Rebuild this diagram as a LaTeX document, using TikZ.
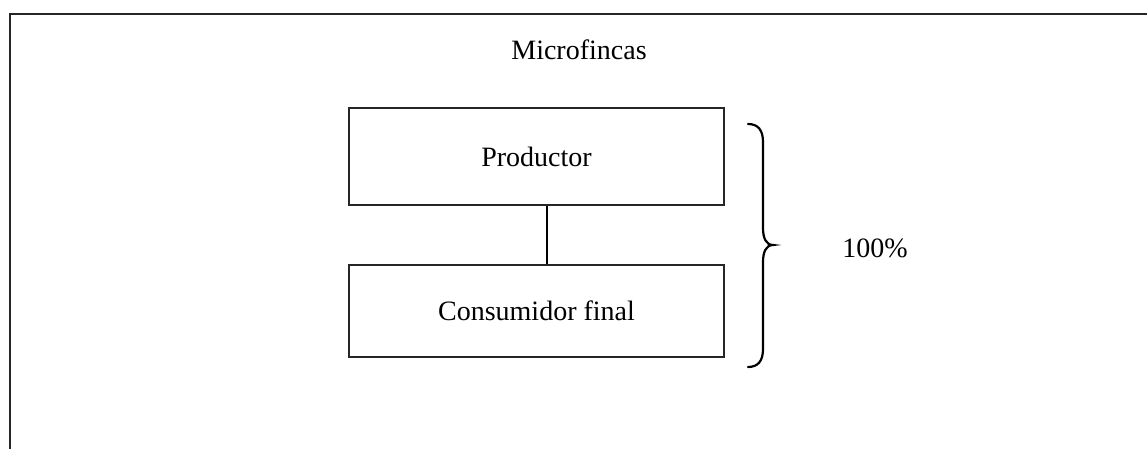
\documentclass[tikz,border=0pt]{standalone}
\usepackage{fontspec}
\setmainfont{Liberation Serif}
\begin{document}
\begin{tikzpicture}[x=1pt,y=-1pt,
  boxstyle/.style={draw=black!85, line width=1.3pt, minimum width=375pt, inner sep=0pt, font=\fontsize{28}{34}\selectfont},
  lbl/.style={inner sep=0pt, font=\fontsize{28}{34}\selectfont}]
\useasboundingbox (0,0) rectangle (1147,449);
% open frame (top and left)
\draw[line width=2pt, black!85] (1147,14) -- (10,14) -- (10,449);
\node[lbl] (title) at (579,50) {Microfincas};
\node[boxstyle, minimum height=97pt] (prod) at (536.5,156.5) {Productor};
\node[boxstyle, minimum height=92pt] (cons) at (536.5,311) {Consumidor final};
\draw[line width=2pt] (prod.south -| 547,0) -- (cons.north -| 547,0);
% brace
\coordinate (btop) at (748,124);
\coordinate (btip) at (773,245);
\coordinate (bbot) at (748,367);
\draw[line width=2.2pt, line cap=round]
  (btop) .. controls (758,124) and (763,130) .. (763,142)
  -- (763,228) .. controls (763,238) and (766,245) .. (btip)
  .. controls (766,245) and (763,252) .. (763,262)
  -- (763,349) .. controls (763,361) and (758,367) .. (bbot);
\node[lbl] (pct) at (875,248) {100\%};
\end{tikzpicture}
\end{document}
